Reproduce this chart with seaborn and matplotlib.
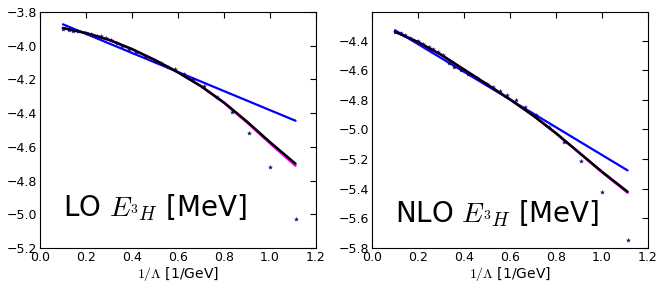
import seaborn as sns
import matplotlib
matplotlib.use("Agg")
import matplotlib.pyplot as plt
import pandas as pd

# 1/Lambda values [1/GeV] of the computed points
inv_lambda = [0.1, 0.125, 0.143, 0.167, 0.2, 0.222, 0.25, 0.267, 0.286, 0.308,
              0.333, 0.357, 0.385, 0.417, 0.455, 0.5, 0.526, 0.556, 0.588, 0.625,
              0.667, 0.714, 0.769, 0.833, 0.909, 1.0, 1.111]

lo_points = [-3.90, -3.905, -3.91, -3.915, -3.925, -3.93, -3.94, -3.945, -3.955, -3.965,
             -3.985, -4.00, -4.02, -4.04, -4.065, -4.09, -4.105, -4.125, -4.14, -4.165,
             -4.195, -4.24, -4.305, -4.395, -4.515, -4.72, -5.03]

nlo_points = [-4.34, -4.35, -4.36, -4.38, -4.405, -4.42, -4.44, -4.455, -4.475, -4.50,
              -4.55, -4.575, -4.60, -4.625, -4.655, -4.695, -4.715, -4.74, -4.77, -4.80,
              -4.845, -4.905, -4.985, -5.085, -5.215, -5.42, -5.745]

# fit curves
fit_x = [0.1, 0.2, 0.3, 0.4, 0.5, 0.6, 0.7, 0.8, 0.9, 1.0, 1.111]
lo_fit_black = [-3.895, -3.925, -3.965, -4.02, -4.085, -4.158, -4.24, -4.337, -4.45, -4.572, -4.70]
lo_fit_magenta = [-3.895, -3.925, -3.965, -4.02, -4.085, -4.158, -4.24, -4.339, -4.455, -4.579, -4.712]
nlo_fit_black = [-4.34, -4.41, -4.495, -4.595, -4.695, -4.797, -4.905, -5.025, -5.155, -5.285, -5.42]
nlo_fit_magenta = [-4.34, -4.41, -4.495, -4.595, -4.695, -4.797, -4.905, -5.026, -5.157, -5.289, -5.426]

lin_x = [0.1, 1.111]
lo_fit_blue = [-3.873, -4.445]
nlo_fit_blue = [-4.33, -5.276]

sns.set_style("white")
plt.rcParams.update({
    "mathtext.fontset": "cm",
    "font.family": ["DejaVu Sans"],
    "text.color": "black",
    "axes.labelcolor": "black",
    "xtick.color": "black",
    "ytick.color": "black",
    "xtick.direction": "in",
    "ytick.direction": "in",
    "xtick.top": True,
    "ytick.right": True,
    "xtick.major.size": 4,
    "ytick.major.size": 4,
    "axes.edgecolor": "black",
    "axes.linewidth": 0.8,
})

fig = plt.figure(figsize=(6.64, 2.9), dpi=100)
ax1 = fig.add_axes([0.0602, 0.1448, 0.4157, 0.8138])
ax2 = fig.add_axes([0.5602, 0.1448, 0.4157, 0.8138])


def draw_panel(ax, pts, blue, magenta, black, label, ylim, text_y):
    sns.lineplot(x=lin_x, y=blue, ax=ax, color="#0000ff", lw=1.6)
    sns.lineplot(x=fit_x, y=magenta, ax=ax, color="#ff00ff", lw=1.8)
    sns.lineplot(x=fit_x, y=black, ax=ax, color="black", lw=1.8)
    sns.scatterplot(x=inv_lambda, y=pts, ax=ax, marker="*", s=9,
                    color="#000080", edgecolor="#000040", linewidth=0.2, zorder=5)
    ax.set_xlim(0, 1.2)
    ax.set_ylim(*ylim)
    ax.set_xlabel(r"$1/\Lambda$ [1/GeV]", fontsize=10, labelpad=1)
    ax.tick_params(labelsize=9, pad=2)
    ax.text(0.083, text_y, label, transform=ax.transAxes, fontsize=20)


draw_panel(ax1, lo_points, lo_fit_blue, lo_fit_magenta, lo_fit_black,
           r"LO $E_{^3H}$ [MeV]", (-5.2, -3.8), 0.134)
draw_panel(ax2, nlo_points, nlo_fit_blue, nlo_fit_magenta, nlo_fit_black,
           r"NLO $E_{^3H}$ [MeV]", (-5.8, -4.207), 0.109)

fig.savefig("out.png", dpi=100, facecolor="white")
